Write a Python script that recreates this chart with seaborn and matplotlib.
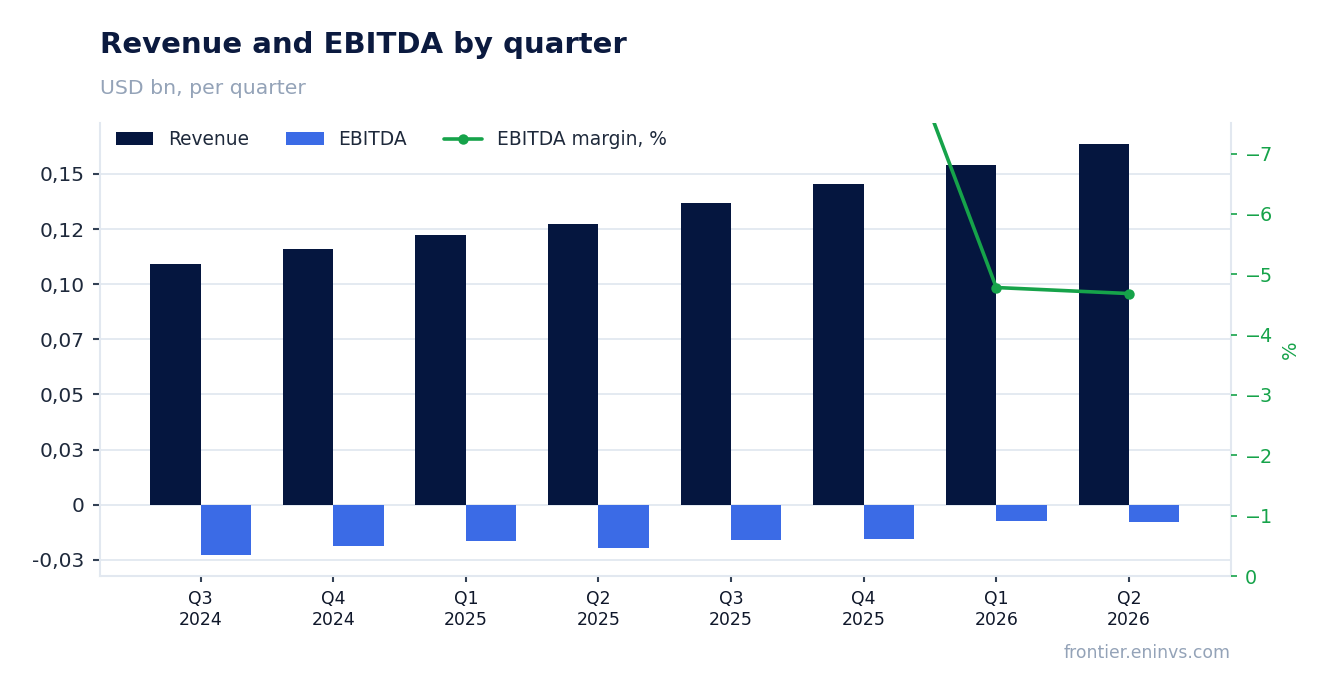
import numpy as np
import pandas as pd
import matplotlib
matplotlib.use("Agg")
import matplotlib.pyplot as plt
from matplotlib.ticker import MultipleLocator, FuncFormatter
from matplotlib.patches import Patch
from matplotlib.lines import Line2D
import seaborn as sns

# ---- data ----
quarters = ["Q3\n2024", "Q4\n2024", "Q1\n2025", "Q2\n2025",
            "Q3\n2025", "Q4\n2025", "Q1\n2026", "Q2\n2026"]
revenue = [0.1092, 0.1160, 0.1223, 0.1273, 0.1367, 0.1454, 0.1540, 0.1636]
ebitda = [-0.0227, -0.0186, -0.0165, -0.0196, -0.0160, -0.0156, -0.0073, -0.0077]
margin = [-20.8, -16.0, -13.5, -15.4, -11.7, -10.6, -4.78, -4.68]

title = "Revenue and EBITDA by quarter"
subtitle = "USD bn, per quarter"
footer = "frontier.eninvs.com"

# ---- style ----
NAVY = "#05163f"
BLUE = "#3b6be6"
GREEN = "#16a34a"
GRID = "#e2e8f0"
TICK = "#334155"
TEXT = "#1e293b"
MUTED = "#94a3b8"

sns.set_style("white")
plt.rcParams["font.family"] = ["DejaVu Sans"]

W, H = 1334, 693
fig = plt.figure(figsize=(W / 100, H / 100), dpi=100)
ax = fig.add_axes([100 / W, 1 - 576 / H, 1131 / W, 453 / H])

df = pd.DataFrame({
    "quarter": quarters * 2,
    "value": revenue + ebitda,
    "metric": ["Revenue"] * len(quarters) + ["EBITDA"] * len(quarters),
})

sns.barplot(data=df, x="quarter", y="value", hue="metric",
            order=quarters, hue_order=["Revenue", "EBITDA"],
            palette=[NAVY, BLUE], width=0.76, saturation=1,
            errorbar=None, legend=False, linewidth=0, edgecolor="none", ax=ax)

ax.set_xlim(-0.759, 7.77)
ax.set_ylim(-0.0323, 0.1731)
ax.yaxis.set_major_locator(MultipleLocator(0.025))
ax.yaxis.set_major_formatter(FuncFormatter(
    lambda v, p: "0" if abs(v) < 1e-12 else f"{v:.2f}".replace(".", ",")))
ax.set_xlabel("")
ax.set_ylabel("")
ax.set_axisbelow(True)
ax.grid(axis="y", color=GRID, linewidth=1.3)
ax.grid(axis="x", visible=False)
for s in ["left", "bottom", "right"]:
    ax.spines[s].set_visible(True)
    ax.spines[s].set_color(GRID)
    ax.spines[s].set_linewidth(1.5)
ax.spines["top"].set_visible(False)
ax.tick_params(axis="y", which="major", left=True, length=5, width=1.5,
               color=TICK, pad=6, labelsize=14.5, labelcolor=TEXT)
ax.tick_params(axis="x", which="major", bottom=True, length=4.5, width=1.5,
               color=TICK, pad=5.5, labelsize=12.4, labelcolor="#0f172a")

# ---- margin line on secondary axis ----
ax2 = ax.twinx()
sns.lineplot(x=np.arange(len(quarters)), y=margin, ax=ax2, color=GREEN,
             linewidth=2.6, marker="o", markersize=7.5, markeredgewidth=0,
             legend=False)
ax2.set_ylim(0, -7.506)
ax2.yaxis.set_major_locator(MultipleLocator(1))
ax2.set_xlim(-0.759, 7.77)
for s in ax2.spines.values():
    s.set_visible(False)
ax2.tick_params(axis="y", right=True, length=4.3, width=1.2, color=GREEN,
                pad=5.5, labelsize=13.8, labelcolor=GREEN)
ax2.set_ylabel("%", color=GREEN, fontsize=14, labelpad=6)
ax2.grid(False)

# ---- legend ----
handles = [
    Patch(facecolor=NAVY, edgecolor="none", label="Revenue"),
    Patch(facecolor=BLUE, edgecolor="none", label="EBITDA"),
    Line2D([0], [0], color=GREEN, linewidth=2.6, marker="o", markersize=7.5,
           markeredgewidth=0, label="EBITDA margin, %"),
]
leg = ax2.legend(handles=handles, loc="center left",
                 bbox_to_anchor=(0.0077, 0.9625), ncol=3, frameon=False,
                 fontsize=13.4, handlelength=2.0, handletextpad=0.8,
                 columnspacing=2.0, borderaxespad=0)
for t in leg.get_texts():
    t.set_color(TEXT)

# ---- texts ----
fig.text(100 / W, 1 - 53 / H, title, fontsize=21, fontweight="bold",
         color="#0b1a3f", ha="left", va="baseline")
fig.text(100 / W, 1 - 94 / H, subtitle, fontsize=14.7, color=MUTED,
         ha="left", va="baseline")
fig.text(1231 / W, 1 - 658 / H, footer, fontsize=12.4, color=MUTED,
         ha="right", va="baseline")

fig.savefig("out.png", dpi=100)
